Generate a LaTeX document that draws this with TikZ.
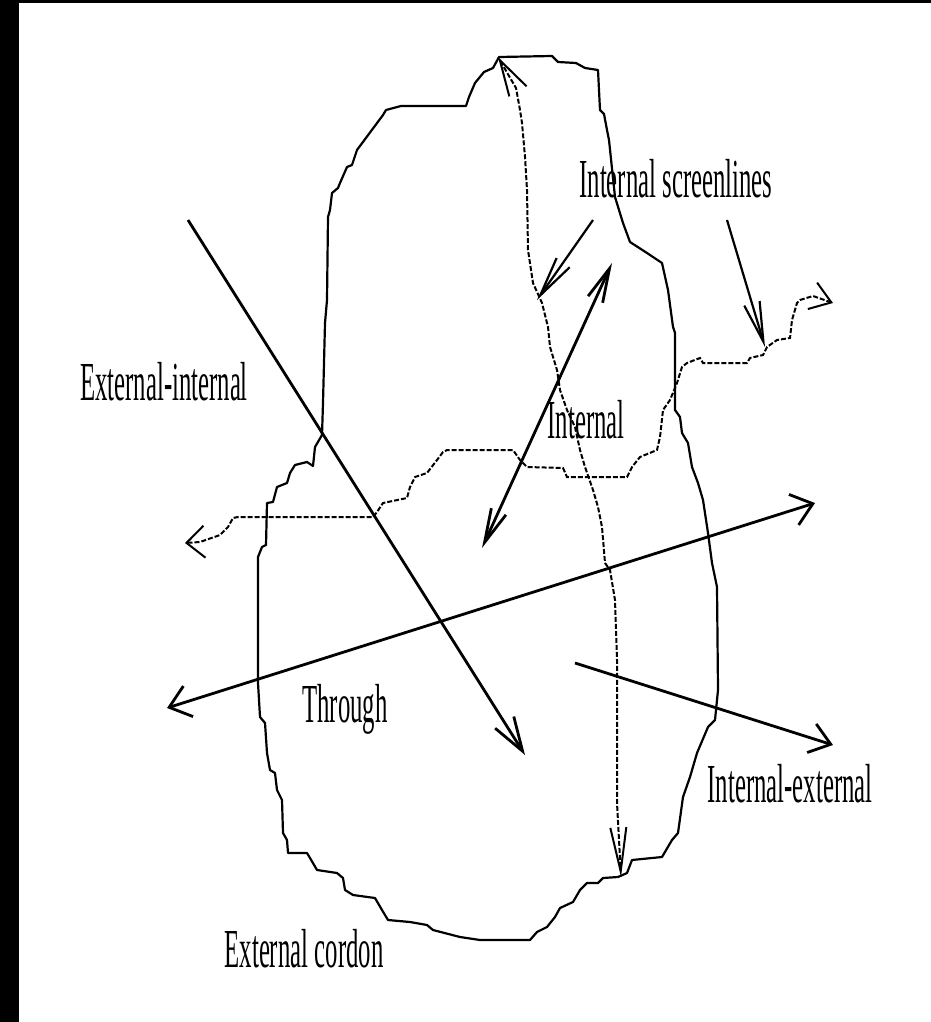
\documentclass[tikz,border=0pt]{standalone}
\usepackage{fontspec}
\newfontfamily\labelfont[FakeStretch=0.45]{Liberation Serif}
\usetikzlibrary{arrows.meta}

\begin{document}
\begin{tikzpicture}[
    x=1pt, y=-1pt,
    cordon/.style={line width=2.2pt, line join=round},
    screen/.style={line width=2pt, dash pattern=on 5pt off 2pt},
    flow/.style={line width=2.8pt},
    pointer/.style={line width=2.2pt, -{Straight Barb[length=40pt,width=16pt]}},
    lbl/.style={font=\labelfont\fontsize{55}{60}\selectfont, anchor=base, inner sep=0pt}
]
\useasboundingbox (0,0) rectangle (931,1022);
\fill[white] (0,0) rectangle (931,1022);
\fill[black] (0,0) rectangle (19,1022);
\fill[black] (0,0) rectangle (931,3);

% External cordon
\draw[cordon] (499,57) -- (552,56) -- (558,62) -- (576,63) -- (585,68) -- (598,70)
  -- (600,110) -- (604,114) -- (607,130) -- (609,140) -- (615,197) -- (623,223)
  -- (630,242) -- (647,253) -- (662,263) -- (668,290) -- (673,327) -- (675,333)
  -- (675,410) -- (680,417) -- (682,433) -- (688,443) -- (692,467) -- (698,483)
  -- (703,500) -- (708,533) -- (712,563) -- (717,587) -- (718,690) -- (715,720)
  -- (708,727) -- (697,753) -- (690,777) -- (683,797) -- (678,833) -- (672,840)
  -- (662,857) -- (632,860) -- (627,873) -- (618,877) -- (603,878) -- (598,883)
  -- (587,883) -- (580,890) -- (573,902) -- (560,908) -- (555,917) -- (547,927)
  -- (537,932) -- (530,940) -- (480,940) -- (460,937) -- (433,930) -- (427,925)
  -- (410,922) -- (388,920) -- (382,910) -- (375,898) -- (353,895) -- (345,890)
  -- (343,878) -- (337,873) -- (317,870) -- (310,858) -- (307,853) -- (288,853)
  -- (287,840) -- (283,833) -- (282,800) -- (277,790) -- (275,773) -- (270,770)
  -- (267,753) -- (265,723) -- (260,717) -- (258,683) -- (258,557) -- (262,547)
  -- (266,545) -- (267,503) -- (273,502) -- (277,487) -- (287,483) -- (290,473)
  -- (295,465) -- (307,462) -- (313,466) -- (315,447) -- (322,435) -- (323,403)
  -- (325,323) -- (327,300) -- (328,217) -- (330,210) -- (332,193) -- (338,188)
  -- (340,183) -- (347,167) -- (352,165) -- (357,150) -- (383,115) -- (386,110)
  -- (401,106) -- (466,106) -- (469,97) -- (475,83) -- (484,72) -- (493,68) -- cycle;

% Internal screenlines
\draw[screen, {Straight Barb[length=36pt,width=20pt]}-{Straight Barb[length=44pt,width=16pt]}]
  (498,57) -- (516,88) -- (520,110) -- (522,123) -- (525,157) -- (527,190)
  -- (528,250) -- (533,283) -- (542,303) -- (548,327) -- (550,347) -- (557,370)
  -- (560,390) -- (567,410) -- (575,427) -- (580,450) -- (585,467) -- (593,490)
  -- (598,507) -- (602,527) -- (605,563) -- (610,570) -- (615,600) -- (617,660)
  -- (617,803) -- (621,877);
\draw[screen, {Straight Barb[length=18pt,width=32pt]}-{Straight Barb[length=20pt,width=28pt]}]
  (185,543) -- (200,542) -- (220,535) -- (228,527) -- (233,518) -- (238,517)
  -- (373,517) -- (377,512) -- (383,503) -- (407,498) -- (410,487) -- (415,477)
  -- (427,473) -- (437,460) -- (443,452) -- (447,450) -- (513,450) -- (520,460)
  -- (527,467) -- (563,468) -- (567,477) -- (627,477) -- (632,467) -- (640,457)
  -- (657,450) -- (660,437) -- (663,410) -- (670,400) -- (677,383) -- (682,367)
  -- (687,363) -- (700,358) -- (703,363) -- (747,363) -- (750,358) -- (763,355)
  -- (767,347) -- (777,340) -- (790,338) -- (792,320) -- (797,303) -- (800,300)
  -- (813,296) -- (833,303);

% Flow ends
\coordinate (ei-from) at (188,220);
\coordinate (ei-to) at (525,755);
\coordinate (thr-left) at (167,708);
\coordinate (thr-right) at (815,503);
\coordinate (int-low) at (482,548);
\coordinate (int-high) at (612,263);
\coordinate (ie-from) at (575,663);
\coordinate (ie-to) at (833,745);
\coordinate (ptr-a) at (593,220);
\coordinate (ptr-a-end) at (537,300);
\coordinate (ptr-b) at (727,220);
\coordinate (ptr-b-end) at (765,347);

% Flows
\draw[flow, -{Straight Barb[length=34pt,width=22pt]}] (ei-from) -- (ei-to);
\draw[flow, {Straight Barb[length=20pt,width=32pt]}-{Straight Barb[length=20pt,width=32pt]}] (thr-left) -- (thr-right);
\draw[flow, {Straight Barb[length=34pt,width=16pt]}-{Straight Barb[length=34pt,width=16pt]}] (int-low) -- (int-high);
\draw[flow, -{Straight Barb[length=20pt,width=30pt]}] (ie-from) -- (ie-to);

% Pointers to the screenlines
\draw[pointer] (ptr-a) -- (ptr-a-end);
\draw[pointer] (ptr-b) -- (ptr-b-end);

% Labels
\node[lbl] (screens) at (676,197) {Internal screenlines};
\node[lbl] (extint) at (164,400) {External-internal};
\node[lbl] (internal) at (586,438) {Internal};
\node[lbl] (through) at (345,722) {Through};
\node[lbl] (intext) at (790,802) {Internal-external};
\node[lbl] (cordonlbl) at (304,967) {External cordon};

\end{tikzpicture}
\end{document}
